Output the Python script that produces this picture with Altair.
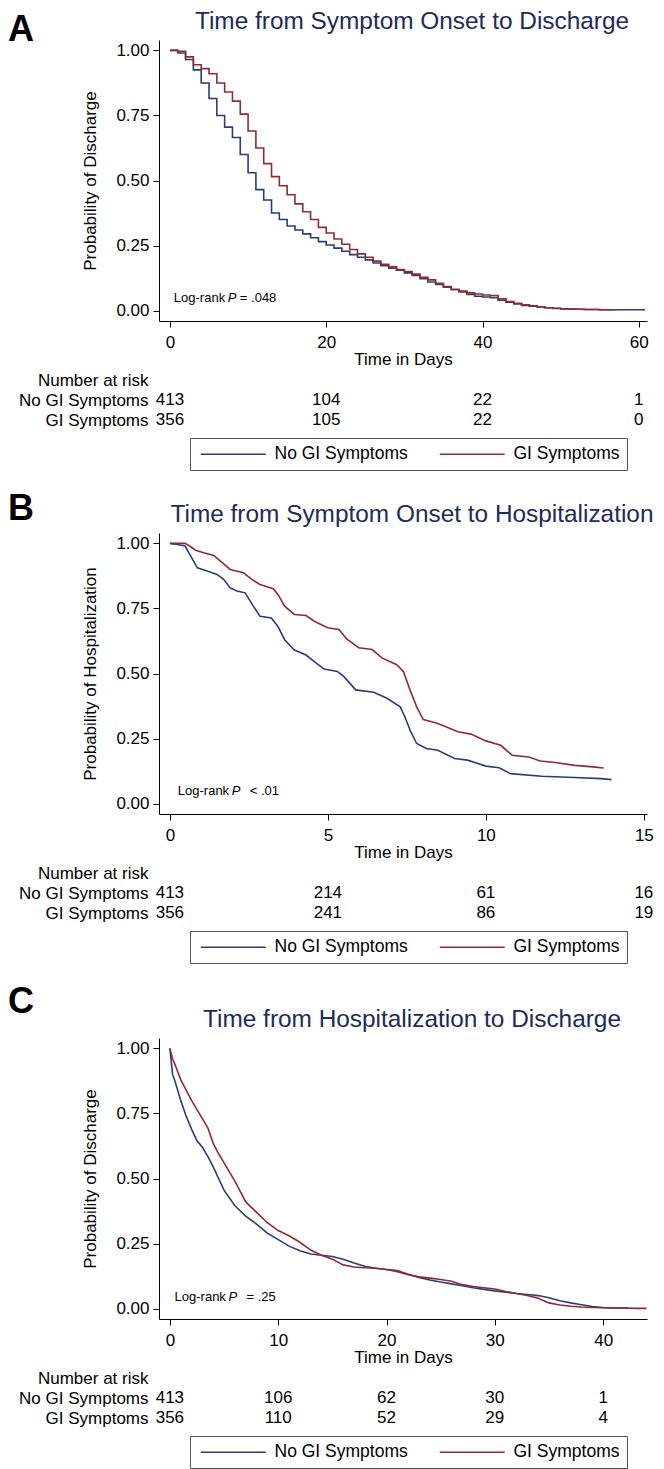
import altair as alt
import pandas as pd

FONT = "Liberation Sans"
BLUE = "#2a3d7a"
RED = "#8e2c35"
NAVY = "#1d2b57"
W, H = 488, 281
LEFT = 151  # letter sits this far left of the plot edge

GROUPS = ["No GI Symptoms", "GI Symptoms"]
ROWS = ["Number at risk", "No GI Symptoms", "GI Symptoms"]
Y_TICKS = [0, 0.25, 0.5, 0.75, 1.0]
Y_DOMAIN = [-0.04, 1.04]

# ---------------- Panel A ----------------
A_LETTER = "A"
A_TITLE = "Time from Symptom Onset to Discharge"
A_YLABEL = "Probability of Discharge"
A_XDOM = [-1.4, 61.05]
A_TICKS = [0, 20, 40, 60]
A_RISK_NO = [413, 104, 22, 1]
A_RISK_GI = [356, 105, 22, 0]
A_LOGRANK = ["= .048"]
A_NO_T = [0, 1, 2, 3, 4, 5, 6, 7, 8, 9, 10, 11, 12, 13, 14, 15, 16, 17, 18, 19,
          20, 21, 22, 23, 24, 25, 26, 27, 28, 29, 30, 31, 32, 33, 34, 35, 36, 37, 38, 39,
          40, 41, 42, 43, 44, 45, 46, 47, 48, 49, 50, 51, 52, 53, 54, 55, 56, 57, 58, 59,
          60, 60.8]
A_NO_S = [1.0, 0.99, 0.965, 0.925, 0.875, 0.815, 0.75, 0.705, 0.665, 0.6,
          0.53, 0.465, 0.425, 0.375, 0.35, 0.325, 0.31, 0.295, 0.28, 0.265,
          0.252, 0.24, 0.228, 0.215, 0.205, 0.195, 0.183, 0.173, 0.163, 0.155,
          0.145, 0.135, 0.123, 0.11, 0.1, 0.09, 0.08, 0.072, 0.062, 0.055,
          0.052, 0.05, 0.04, 0.032, 0.026, 0.02, 0.017, 0.014, 0.011, 0.009,
          0.007, 0.006, 0.005, 0.004, 0.004, 0.003, 0.003, 0.003, 0.003, 0.003,
          0.003, 0.003]
A_GI_T = [0, 1, 2, 3, 4, 5, 6, 7, 8, 9, 10, 11, 12, 13, 14, 15, 16, 17, 18, 19,
          20, 21, 22, 23, 24, 25, 26, 27, 28, 29, 30, 31, 32, 33, 34, 35, 36, 37, 38, 39,
          40, 41, 42, 43, 44, 45, 46, 47, 48, 49, 50, 51, 52, 53, 54, 55, 56, 57.0]
A_GI_S = [1.0, 0.997, 0.975, 0.945, 0.93, 0.91, 0.875, 0.84, 0.805, 0.755,
          0.69, 0.625, 0.565, 0.515, 0.48, 0.445, 0.41, 0.38, 0.35, 0.32,
          0.298, 0.275, 0.255, 0.235, 0.218, 0.205, 0.19, 0.178, 0.168, 0.158,
          0.15, 0.14, 0.128, 0.118, 0.105, 0.092, 0.082, 0.075, 0.068, 0.064,
          0.06, 0.058, 0.045, 0.035, 0.028, 0.022, 0.018, 0.014, 0.011, 0.008,
          0.006, 0.005, 0.005, 0.004, 0.004, 0.003, 0.003, 0.003]

# ---------------- Panel B ----------------
B_LETTER = "B"
B_TITLE = "Time from Symptom Onset to Hospitalization"
B_YLABEL = "Probability of Hospitalization"
B_XDOM = [-0.345, 15.1]
B_TICKS = [0, 5, 10, 15]
B_RISK_NO = [413, 214, 61, 16]
B_RISK_GI = [356, 241, 86, 19]
B_LOGRANK = ["< .01"]
B_NO_T = [0, 0.24, 0.48, 0.6, 0.87, 1.18, 1.49, 1.7, 1.91, 2.12,
          2.38, 2.64, 2.85, 3.21, 3.42, 3.63, 3.94, 4.31, 4.57, 4.88,
          5.3, 5.51, 5.88, 6.45, 6.87, 7.29, 7.44, 7.6, 7.81, 8.12,
          8.48, 9.01, 9.42, 10.0, 10.42, 10.78, 11.77, 12.81, 13.65, 13.98]
B_NO_S = [1.0, 0.996, 0.99, 0.964, 0.906, 0.894, 0.881, 0.862, 0.829, 0.817,
          0.81, 0.759, 0.72, 0.713, 0.681, 0.63, 0.59, 0.571, 0.546, 0.517,
          0.508, 0.488, 0.437, 0.428, 0.405, 0.372, 0.333, 0.282, 0.231, 0.212,
          0.205, 0.173, 0.167, 0.144, 0.138, 0.115, 0.105, 0.1, 0.096, 0.092]
B_GI_T = [0, 0.48, 0.6, 0.81, 1.07, 1.39, 1.6, 1.91, 2.33, 2.59,
          2.85, 3.27, 3.42, 3.63, 3.94, 4.31, 4.57, 4.99, 5.35, 5.61,
          5.98, 6.4, 6.71, 7.18, 7.39, 7.6, 7.81, 8.02, 8.43, 8.74,
          9.11, 9.53, 10.0, 10.47, 10.83, 11.36, 11.72, 12.19, 12.81, 13.39, 13.73]
B_GI_S = [1.0, 1.0, 0.992, 0.974, 0.964, 0.954, 0.932, 0.9, 0.887, 0.862,
          0.842, 0.826, 0.804, 0.759, 0.727, 0.723, 0.701, 0.676, 0.669, 0.631,
          0.599, 0.592, 0.56, 0.534, 0.508, 0.437, 0.372, 0.323, 0.31, 0.295,
          0.276, 0.267, 0.241, 0.224, 0.186, 0.179, 0.164, 0.158, 0.147, 0.141, 0.137]

# ---------------- Panel C ----------------
C_LETTER = "C"
C_TITLE = "Time from Hospitalization to Discharge"
C_YLABEL = "Probability of Discharge"
C_XDOM = [-1.006, 44.05]
C_TICKS = [0, 10, 20, 30, 40]
C_RISK_NO = [413, 106, 62, 30, 1]
C_RISK_GI = [356, 110, 52, 29, 4]
C_LOGRANK = ["= .25"]
C_NO_T = [0, 0.25, 0.5, 1, 1.5, 2, 2.5, 3, 3.5, 4, 4.5, 5,
          6, 7, 8, 9, 10, 11, 12, 13, 14, 15, 16, 17, 18, 19, 20, 21, 22, 23,
          24, 25, 26, 27, 28, 29, 30, 31, 32, 33, 34, 35, 36, 37, 38, 39, 40, 41, 42.3]
C_NO_S = [1.0, 0.9, 0.87, 0.8, 0.74, 0.69, 0.645, 0.62, 0.585, 0.545, 0.5, 0.455,
          0.395, 0.355, 0.325, 0.29, 0.265, 0.24, 0.222, 0.21, 0.205, 0.2,
          0.19, 0.175, 0.163, 0.155, 0.15, 0.146, 0.132, 0.12, 0.11, 0.102,
          0.095, 0.088, 0.08, 0.074, 0.068, 0.063, 0.058, 0.054, 0.05, 0.042,
          0.03, 0.022, 0.015, 0.008, 0.004, 0.002, 0.002]
C_GI_T = [0, 0.25, 0.5, 1, 1.5, 2, 2.5, 3, 3.5, 4, 4.5, 5,
          6, 7, 8, 9, 10, 11, 12, 13, 14, 15, 16, 17, 18, 19, 20, 21, 22, 23,
          24, 25, 26, 27, 28, 29, 30, 31, 32, 33, 34, 35, 36, 37, 38, 39, 40, 41,
          42, 43, 44.0]
C_GI_S = [1.0, 0.96, 0.935, 0.88, 0.84, 0.8, 0.765, 0.73, 0.695, 0.635, 0.595, 0.56,
          0.49, 0.41, 0.37, 0.33, 0.3, 0.28, 0.255, 0.225, 0.205, 0.19,
          0.168, 0.16, 0.157, 0.155, 0.15, 0.142, 0.13, 0.122, 0.117, 0.112,
          0.105, 0.092, 0.085, 0.08, 0.075, 0.066, 0.058, 0.05, 0.04, 0.022,
          0.014, 0.009, 0.006, 0.004, 0.003, 0.002, 0.002, 0.001, 0.001]

# log-rank annotation anchor (data coords) per panel
LR_X = [0.5, 0.25, 0.43]
LR_Y = [0.048, 0.05, 0.046]


def km_chart(letter, letter_y, title, ylabel, xdom, xticks, no_t, no_s, gi_t, gi_s,
             interp, lr_x, lr_y, lr_rest, lr_rest_dx):
    xs = alt.Scale(domain=xdom, nice=False, zero=False)
    ys = alt.Scale(domain=Y_DOMAIN, nice=False, zero=False)
    xax = alt.Axis(values=xticks, format="d", tickSize=6, labelPadding=7,
                   titlePadding=1, title="Time in Days", labelFlush=False)
    yax = alt.Axis(values=Y_TICKS, format=".2f", tickSize=6, labelPadding=4,
                   titlePadding=16, title=ylabel, labelFlush=False)

    def enc(ch):
        return ch.encode(x=alt.X("t:Q", scale=xs, axis=xax),
                         y=alt.Y("s:Q", scale=ys, axis=yax))

    blue = enc(alt.Chart(pd.DataFrame({"t": no_t, "s": no_s})).mark_line(
        interpolate=interp, color=BLUE, strokeWidth=1.6))
    red = enc(alt.Chart(pd.DataFrame({"t": gi_t, "s": gi_s})).mark_line(
        interpolate=interp, color=RED, strokeWidth=1.6))

    lr_df = pd.DataFrame({"t": [lr_x], "s": [lr_y]})
    lr1 = enc(alt.Chart(lr_df).mark_text(text="Log-rank", font=FONT, fontSize=13,
                                         align="left", baseline="middle", color="black"))
    lr2 = enc(alt.Chart(lr_df).mark_text(text="P", font=FONT, fontSize=13, fontStyle="italic",
                                         align="left", baseline="middle", color="black", dx=54))
    lr3 = enc(alt.Chart(lr_df).mark_text(text=lr_rest, font=FONT, fontSize=13,
                                         align="left", baseline="middle", color="black",
                                         dx=lr_rest_dx))

    one = pd.DataFrame({"k": [0]})
    let = alt.Chart(one).mark_text(text=letter, font=FONT, fontSize=36, fontWeight="bold",
                                   align="left", baseline="alphabetic", color="black").encode(
        x=alt.value(-LEFT), y=alt.value(letter_y))
    ttl = alt.Chart(one).mark_text(text=title, font=FONT, fontSize=24.4, color=NAVY,
                                   align="center", baseline="middle").encode(
        x=alt.value(253), y=alt.value(-18))

    return alt.layer(blue, red, lr1, lr2, lr3, let, ttl).properties(width=W, height=H)


def risk_chart(xdom, ticks, no_n, gi_n):
    recs = []
    for t, n in zip(ticks, no_n):
        recs.append({"t": t, "row": GROUPS[0], "n": n})
    for t, n in zip(ticks, gi_n):
        recs.append({"t": t, "row": GROUPS[1], "n": n})
    df = pd.DataFrame(recs)
    xs = alt.Scale(domain=xdom, nice=False, zero=False)
    ys = alt.Scale(domain=ROWS)
    yax = alt.Axis(title=None, domain=False, ticks=False, labelPadding=11,
                   labelFontSize=17, labelAlign="right", labelLimit=400)
    nums = alt.Chart(df).mark_text(font=FONT, fontSize=17, color="black",
                                   baseline="middle").encode(
        x=alt.X("t:Q", scale=xs, axis=None),
        y=alt.Y("row:N", scale=ys, axis=yax),
        text="n:Q")
    leg_df = pd.DataFrame({"t": [ticks[0], ticks[0]], "row": GROUPS, "grp": GROUPS})
    legend = alt.Legend(title=None, orient="none", legendX=31, legendY=68,
                        direction="horizontal", symbolType="M-1,0H12", symbolSize=100,
                        symbolStrokeWidth=1.5, labelFont=FONT, labelFontSize=17.5,
                        labelColor="black", labelOffset=60, columnPadding=28, padding=7,
                        strokeColor="#555555", fillColor="white", labelLimit=400)
    leg = alt.Chart(leg_df).mark_line(strokeWidth=1.5).encode(
        x=alt.X("t:Q", scale=xs, axis=None),
        y=alt.Y("row:N", scale=ys, axis=yax),
        color=alt.Color("grp:N", scale=alt.Scale(domain=GROUPS, range=[BLUE, RED]),
                        legend=legend)
    ).transform_filter("false")
    return alt.layer(nums, leg).properties(width=W, height=60)


kmA = km_chart(A_LETTER, 1, A_TITLE, A_YLABEL, A_XDOM, A_TICKS, A_NO_T, A_NO_S, A_GI_T, A_GI_S,
               "step-after", LR_X[0], LR_Y[0], A_LOGRANK[0], 66)
kmB = km_chart(B_LETTER, -13, B_TITLE, B_YLABEL, B_XDOM, B_TICKS, B_NO_T, B_NO_S, B_GI_T, B_GI_S,
               "linear", LR_X[1], LR_Y[1], B_LOGRANK[0], 72)
kmC = km_chart(C_LETTER, -25, C_TITLE, C_YLABEL, C_XDOM, C_TICKS, C_NO_T, C_NO_S, C_GI_T, C_GI_S,
               "linear", LR_X[2], LR_Y[2], C_LOGRANK[0], 72)

pA = alt.vconcat(kmA, risk_chart(A_XDOM, A_TICKS, A_RISK_NO, A_RISK_GI), spacing=3).resolve_scale(color="independent")
pB = alt.vconcat(kmB, risk_chart(B_XDOM, B_TICKS, B_RISK_NO, B_RISK_GI), spacing=3).resolve_scale(color="independent")
pC = alt.vconcat(kmC, risk_chart(C_XDOM, C_TICKS, C_RISK_NO, C_RISK_GI), spacing=3).resolve_scale(color="independent")

chart = alt.vconcat(pA, pB, pC, spacing=20).resolve_scale(color="independent").properties(
    padding={"top": 1, "left": 0, "right": 0, "bottom": 0})
chart = chart.configure_view(stroke=None).configure_axis(
    labelFont=FONT, titleFont=FONT, labelFontSize=17, titleFontSize=17,
    titleFontWeight="normal", labelColor="black", titleColor="black",
    domainColor="black", tickColor="black", grid=False, domainWidth=1, tickWidth=1)

chart.save("out.html", embed_options={"renderer": "svg", "actions": False})
